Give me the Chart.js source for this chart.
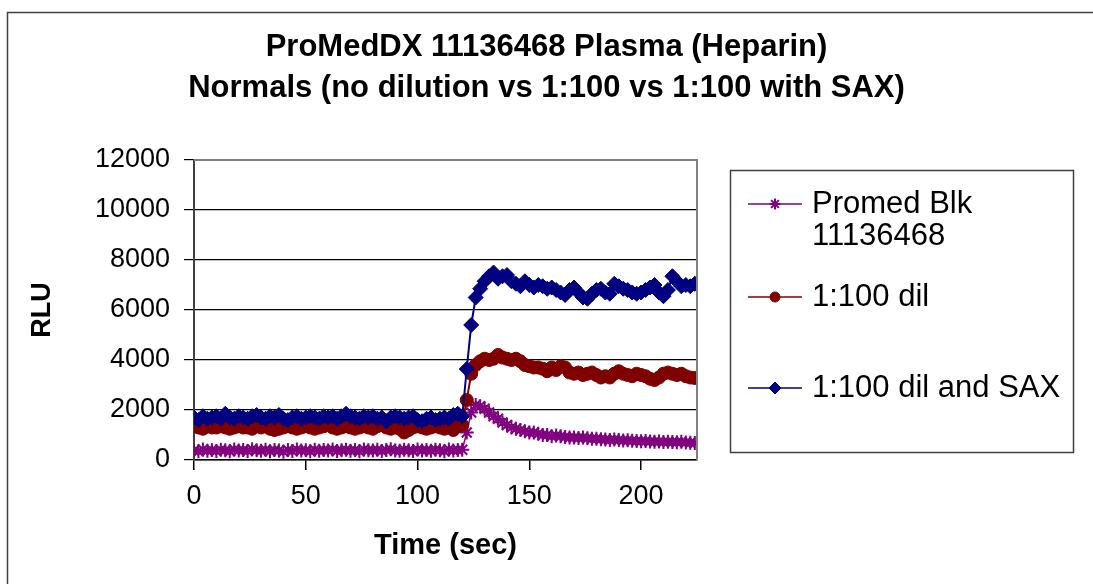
<!DOCTYPE html>
<html><head><meta charset="utf-8">
<script src="https://cdn.jsdelivr.net/npm/chart.js@4.4.1/dist/chart.umd.min.js"></script>
<style>html,body{margin:0;padding:0;background:#fff;overflow:hidden}#wrap{position:relative;width:1093px;height:584px}</style>
</head><body><div id="wrap"><canvas id="c" width="1093" height="584"></canvas></div>
<script>
const titleLines = ['ProMedDX 11136468 Plasma (Heparin)', 'Normals (no dilution vs 1:100 vs 1:100 with SAX)'];
const xTitle = 'Time (sec)';
const yTitle = 'RLU';
const seriesLabels = [['Promed Blk', '11136468'], ['1:100 dil'], ['1:100 dil and SAX']];
const xTicks = [0, 50, 100, 150, 200];
const yTicks = [0, 2000, 4000, 6000, 8000, 10000, 12000];

const timeSec = [
  0,2,4,6,8,10,12,14,16,18,
  20,22,24,26,28,30,32,34,36,38,
  40,42,44,46,48,50,52,54,56,58,
  60,62,64,66,68,70,72,74,76,78,
  80,82,84,86,88,90,92,94,96,98,
  100,102,104,106,108,110,112,114,116,118,
  120,122,124,126,128,130,132,134,136,138,
  140,142,144,146,148,150,152,154,156,158,
  160,162,164,166,168,170,172,174,176,178,
  180,182,184,186,188,190,192,194,196,198,
  200,202,204,206,208,210,212,214,216,218,
  220,222,224
];
const promedBlk = [
  380,350,420,370,400,360,410,390,350,420,
  380,400,360,430,390,370,410,350,400,380,
  330,400,360,420,380,390,350,410,370,400,
  380,420,360,390,410,370,400,350,420,390,
  380,410,360,400,430,380,370,410,390,360,
  420,380,400,370,410,390,350,420,380,400,
  410,1100,1900,2200,2150,2050,1900,1750,1650,1500,
  1400,1300,1250,1200,1150,1100,1100,1050,1000,1000,
  950,980,950,920,900,900,880,900,870,850,
  850,830,820,800,820,800,780,790,770,760,
  750,760,740,730,740,720,730,720,710,730,
  700,690,680
];
const dil100 = [
  1350,1300,1250,1350,1300,1300,1350,1300,1250,1300,
  1350,1300,1300,1250,1350,1300,1350,1250,1200,1250,
  1300,1350,1300,1250,1300,1350,1300,1250,1300,1350,
  1400,1300,1250,1300,1350,1300,1250,1300,1350,1300,
  1250,1350,1400,1300,1250,1300,1250,1100,1200,1300,
  1350,1300,1250,1300,1350,1300,1250,1300,1200,1350,
  1400,2400,3450,3800,3950,4050,4000,4050,4200,4100,
  4050,4000,4050,3950,3800,3750,3700,3700,3650,3550,
  3700,3600,3750,3700,3500,3450,3500,3400,3450,3500,
  3400,3300,3350,3300,3450,3550,3450,3400,3350,3450,
  3400,3350,3250,3200,3300,3450,3500,3450,3400,3450,
  3350,3300,3280
];
const dil100Sax = [
  1700,1600,1750,1650,1700,1750,1650,1850,1700,1650,
  1750,1700,1650,1750,1800,1700,1650,1750,1700,1800,
  1650,1600,1700,1750,1650,1700,1750,1700,1650,1750,
  1700,1750,1650,1750,1850,1750,1700,1650,1750,1700,
  1750,1650,1700,1550,1700,1750,1700,1650,1700,1750,
  1600,1550,1650,1700,1600,1650,1700,1650,1800,1850,
  1750,3640,5400,6500,6850,7150,7350,7500,7250,7350,
  7400,7150,7050,6950,7150,7000,6900,7000,6950,6850,
  6900,6800,6700,6600,6800,6900,6700,6500,6450,6650,
  6800,6850,6700,6650,7050,6950,6850,6800,6700,6650,
  6700,6800,6900,7000,6700,6550,6800,7350,7150,6950,
  7000,6950,7050
];

const FONT = "'Liberation Sans', Arial, sans-serif";
Chart.defaults.font.family = FONT;
Chart.defaults.color = '#000';

const toPts = arr => arr.map((v, i) => ({x: timeSec[i], y: v}));

const frame = {
  id: 'frame',
  beforeDraw(chart) {
    const c = chart.ctx;
    c.save();
    c.fillStyle = '#fff';
    c.fillRect(0, 0, chart.width, chart.height);
    c.strokeStyle = '#404040';
    c.lineWidth = 1.5;
    c.beginPath();
    c.moveTo(7.5, chart.height);
    c.lineTo(7.5, 12.5);
    c.lineTo(chart.width, 12.5);
    c.stroke();
    c.restore();
  },
  afterDatasetsDraw(chart) {
    const a = chart.chartArea, c = chart.ctx;
    c.save();
    c.strokeStyle = '#808080';
    c.lineWidth = 2;
    c.beginPath();
    c.moveTo(a.left, a.top);
    c.lineTo(a.right, a.top);
    c.lineTo(a.right, a.bottom);
    c.stroke();
    c.restore();
  },
  afterDraw(chart) {
    const c = chart.ctx;
    c.save();
    c.strokeStyle = '#404040';
    c.lineWidth = 1.5;
    c.strokeRect(730.5, 170.5, 343, 282);
    const rows = [[204, 236], [297], [388]];
    c.font = '31px ' + FONT;
    c.textBaseline = 'middle';
    c.fillStyle = '#000';
    chart.data.datasets.forEach((ds, i) => {
      const y = rows[i][0];
      c.strokeStyle = ds.borderColor;
      c.lineWidth = 1.5;
      c.beginPath();
      c.moveTo(748, y);
      c.lineTo(802, y);
      c.stroke();
      c.fillStyle = ds.backgroundColor;
      c.strokeStyle = ds.borderColor;
      c.lineWidth = ds.pointBorderWidth;
      Chart.helpers.drawPoint(c, {pointStyle: ds.pointStyle, radius: ds.pointRadius - 1.5, rotation: 0, borderWidth: ds.pointBorderWidth}, 775, y);
      c.fillStyle = '#000';
      seriesLabels[i].forEach((t, k) => c.fillText(t, 812, rows[i][k]));
    });
    c.restore();
  }
};

new Chart(document.getElementById('c'), {
  type: 'line',
  data: {
    datasets: [
      {label: seriesLabels[0].join(' '), data: toPts(promedBlk), borderColor: '#800080', backgroundColor: '#800080',
       pointStyle: 'star', pointRadius: 7, pointBorderWidth: 2, borderWidth: 1.5, order: 3},
      {label: seriesLabels[1].join(' '), data: toPts(dil100), borderColor: '#800000', backgroundColor: '#800000',
       pointStyle: 'circle', pointRadius: 6.5, pointBorderWidth: 1, borderWidth: 2, order: 2},
      {label: seriesLabels[2].join(' '), data: toPts(dil100Sax), borderColor: '#000080', backgroundColor: '#000080',
       pointStyle: 'rectRot', pointRadius: 7.5, pointBorderWidth: 1, borderWidth: 2, order: 1}
    ]
  },
  options: {
    responsive: false,
    devicePixelRatio: 1,
    animation: false,
    events: [],
    layout: {padding: {left: 0, right: 0, top: 0, bottom: 0}},
    elements: {line: {tension: 0}},
    plugins: {
      legend: {display: false},
      tooltip: {enabled: false},
      title: {
        display: true, text: titleLines, color: '#000',
        font: {family: FONT, size: 31, weight: 'bold', lineHeight: 41 / 31},
        padding: {top: 27, bottom: 51}
      }
    },
    scales: {
      x: {
        type: 'linear', position: 'bottom', min: 0, max: 225,
        afterBuildTicks: s => { s.ticks = xTicks.map(v => ({value: v})); },
        afterFit: s => { s.height = 124; },
        ticks: {font: {size: 27}, color: '#000', padding: 10, callback: v => String(v)},
        grid: {drawOnChartArea: false, drawTicks: true, tickLength: 10, color: '#000', lineWidth: 1.5},
        border: {display: true, color: '#000', width: 1.5},
        title: {display: true, text: xTitle, color: '#000', font: {size: 29, weight: 'bold', lineHeight: 1.2}, padding: {top: 0, bottom: 21}}
      },
      y: {
        type: 'linear', position: 'left', min: 0, max: 12000,
        afterBuildTicks: s => { s.ticks = yTicks.map(v => ({value: v})); },
        afterFit: s => { s.width = 194; },
        ticks: {font: {size: 27}, color: '#000', padding: 14, callback: v => String(v)},
        grid: {drawOnChartArea: true, drawTicks: true, tickLength: 10,
               color: ctx => (ctx.tick && ctx.tick.value === 12000) ? '#808080' : '#000', tickColor: '#000', lineWidth: 1.2},
        border: {display: true, color: '#404040', width: 2},
        title: {display: true, text: yTitle, color: '#000', font: {size: 27, weight: 'bold', lineHeight: 1.2}, padding: {top: 26, bottom: 0}}
      },
      yPad: {
        type: 'linear', position: 'right', min: 0, max: 1,
        display: true,
        afterFit: s => { s.width = 396; },
        ticks: {display: false},
        grid: {display: false, drawTicks: false},
        border: {display: false}
      }
    }
  },
  plugins: [frame]
});
</script>
</body></html>
